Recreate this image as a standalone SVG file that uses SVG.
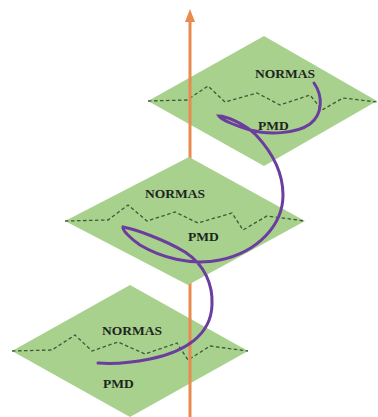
<svg xmlns="http://www.w3.org/2000/svg" width="378" height="417" viewBox="0 0 378 417">
<style>
.plane{fill:#a9d18e;stroke:none}
.dash{fill:none;stroke:#3b5a36;stroke-width:1.3;stroke-dasharray:3.5,2.5}
.lbl{font-family:"Liberation Serif","Times New Roman",serif;font-weight:bold;font-size:13.5px;fill:#1c261c}
.axis{stroke:#e98a4f;stroke-width:3;fill:none}
.helix{fill:none;stroke:#6a3d9e;stroke-width:3;stroke-linecap:round}
</style>
<rect width="378" height="417" fill="#ffffff"/>
<g id="plane-bottom">
<polygon class="plane" points="130,285 248,351 130,417 12,351"/>
<polyline class="dash" points="12,351 52,350 75,335 92,351 118,342 145,354 177,343 188,360 210,346 248,351"/>
<text class="lbl" x="102" y="335">NORMAS</text>
<text class="lbl" x="103" y="388">PMD</text>
</g>
<g id="plane-top">
<polygon class="plane" points="264,36 377,101 264,166 148,101"/>
<polyline class="dash" points="148,101 187,100 208,86 225,102 257,93 280,105 310,95 322,110 343,98 377,102"/>
<text class="lbl" x="255" y="78">NORMAS</text>
<text class="lbl" x="258" y="130">PMD</text>
</g>
<g id="connectors">
<line class="axis" x1="190" y1="20" x2="190" y2="417"/>
<polygon points="190,9 185,22 195,22" fill="#e98a4f"/>
</g>
<g id="plane-middle">
<polygon class="plane" points="189,157 305,221 188,285 65,221"/>
<polyline class="dash" points="65,221 108,220 128,205 147,221 175,212 198,223 232,213 243,230 267,216 305,221"/>
<text class="lbl" x="145" y="198">NORMAS</text>
<text class="lbl" x="188" y="241">PMD</text>
</g>
<g id="helix">
<path class="helix" d="M314,83 C323,96 323,114 310,124 C296,134 268,135 250,130 C236,126 222,120 219,116 C226,116 245,124 256,135 C270,150 283,170 283,195 C283,225 258,252 220,260 C190,266 160,257 140,245 C130,238 122,230 123,227 C135,229 165,240 185,252 C205,265 213,285 212,305 C211,335 185,352 150,359 C130,363 110,364 98,363"/>
</g>
</svg>
